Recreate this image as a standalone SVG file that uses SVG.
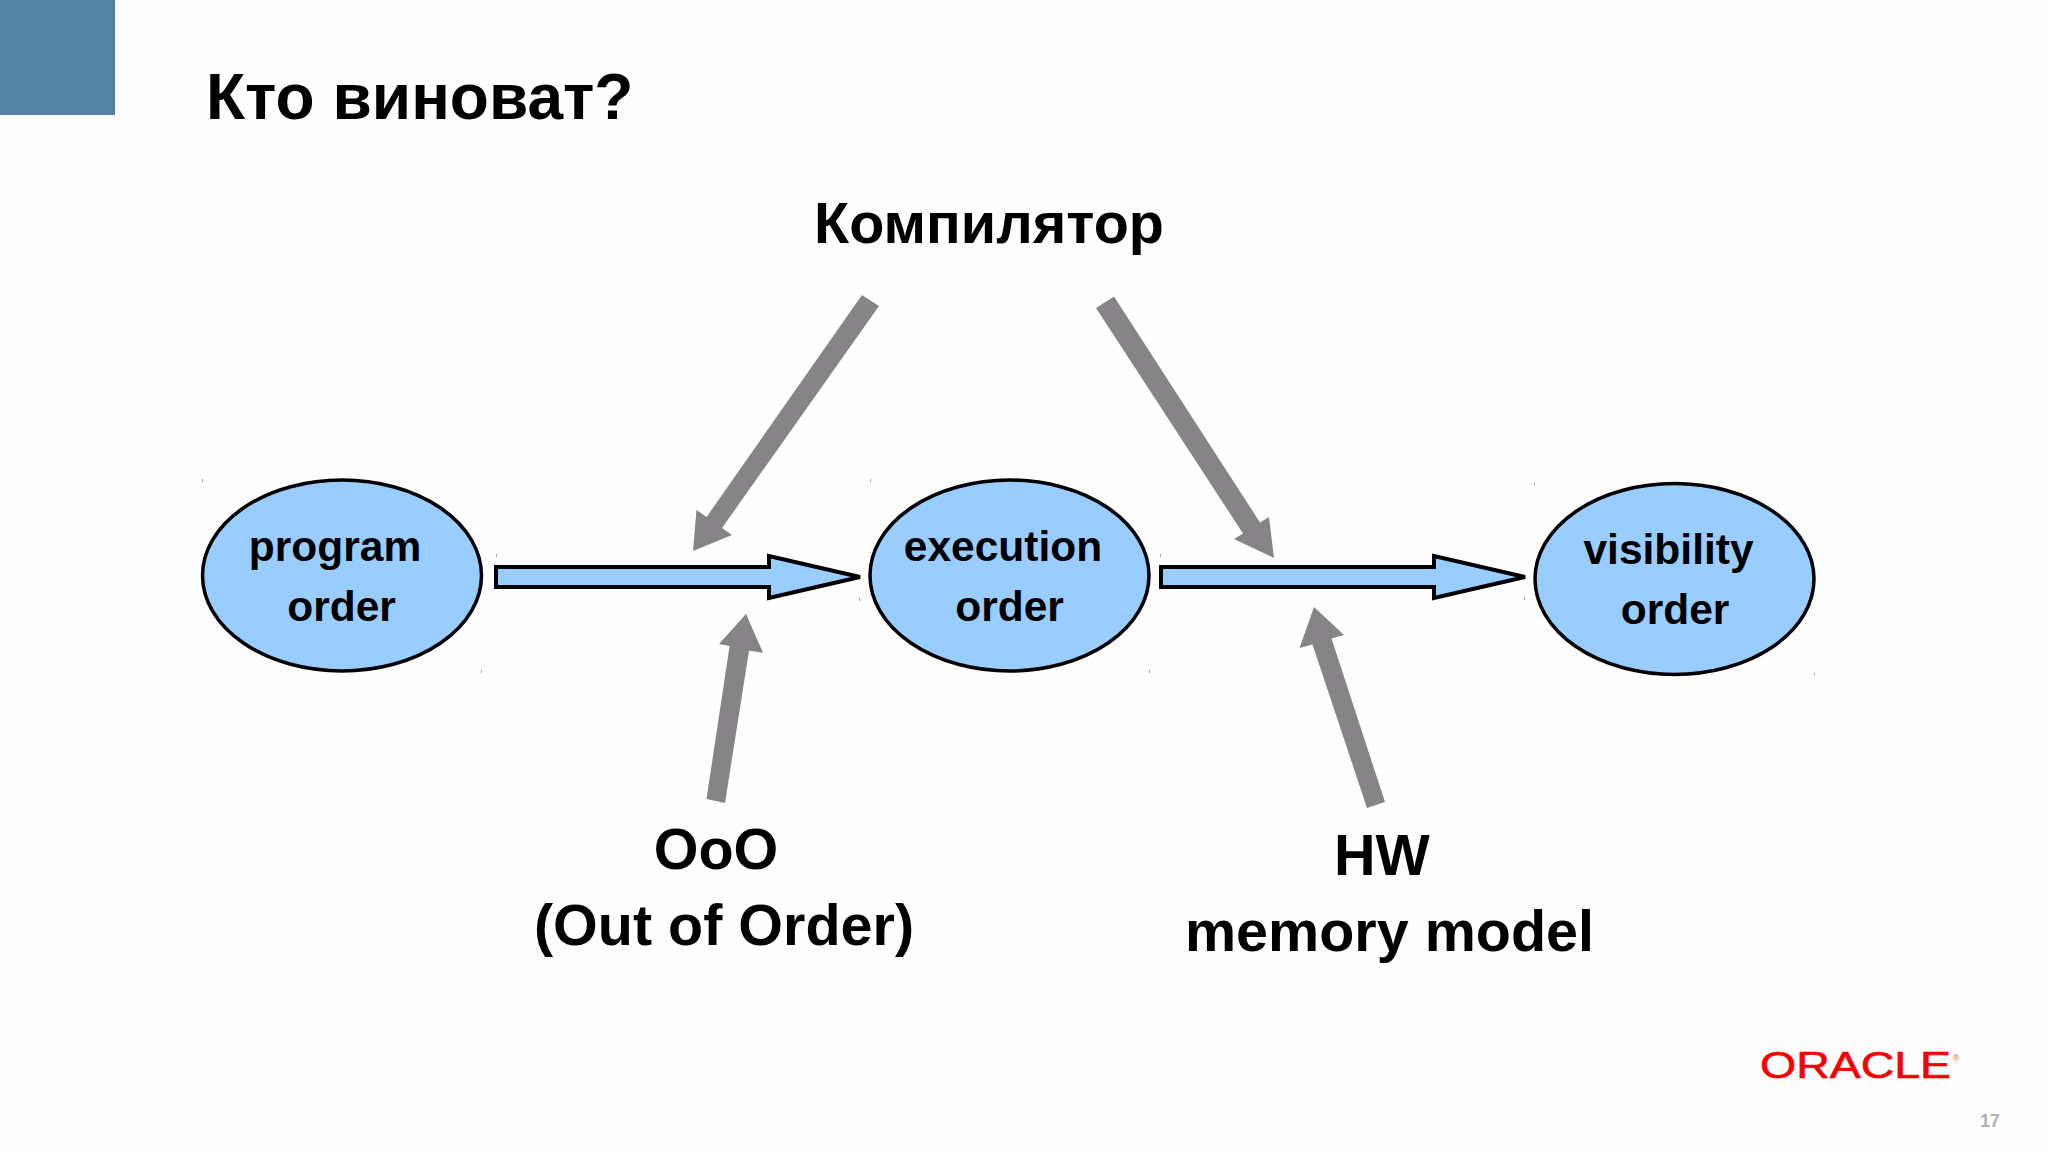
<svg xmlns="http://www.w3.org/2000/svg" width="2048" height="1152" viewBox="0 0 2048 1152">
<style>
text{font-family:"Liberation Sans",Arial,sans-serif;font-weight:700;fill:#000;text-anchor:middle}
.n{font-size:42.500px}
.l{font-size:57.500px}
.o{fill:#99ccff;stroke:#000;stroke-width:3.500}
.b{fill:#99ccff;stroke:#000;stroke-width:4;stroke-linejoin:miter}
.g{fill:#868486}
.m{fill:#a8a8a8}
</style>
<rect width="2048" height="1152" fill="#fefefe"/>
<rect id="corner" width="115" height="115" fill="#5582a3"/>
<text id="title" x="206" y="119" font-size="64" style="text-anchor:start">Кто виноват?</text>
<g id="marks">
<rect class="m" x="202" y="479" width="1" height="3"/><rect class="m" x="496" y="554" width="1" height="3"/><rect class="m" x="481" y="670" width="1" height="3"/><rect class="m" x="870" y="479" width="1" height="3"/><rect class="m" x="859" y="598" width="1" height="3"/><rect class="m" x="1149" y="670" width="1" height="3"/><rect class="m" x="1160" y="554" width="1" height="3"/><rect class="m" x="1524" y="597" width="1" height="3"/><rect class="m" x="1534" y="482" width="1" height="3"/><rect class="m" x="1814" y="673" width="1" height="3"/>
</g>
<g id="connectors">
<path class="b" d="M496 567H769V556L860 577L769 598V587H496Z"/>
<path class="b" d="M1161 567H1434V556L1525 577L1434 598V587H1161Z"/>
<path class="g" d="M862 295L879 306L722 528L732 535L693 551L696.500 510L706.600 517Z"/>
<path class="g" d="M1096 308L1114 296.500L1260 522.500L1269 517L1274 558L1234 539L1243 533.500Z"/>
<path class="g" d="M706.500 799L725 803L749 650.700L763 652.700L746 614L719 644L729.600 646Z"/>
<path class="g" d="M1367 808L1385 802L1331.500 638.600L1344 635L1314 607L1299.500 648L1312.500 644.400Z"/>
</g>
<g id="program-order"><ellipse class="o" cx="342" cy="575.500" rx="139.500" ry="95.500"/><text class="n" x="335" y="561">program</text><text class="n" x="341.500" y="621">order</text></g>
<g id="execution-order"><ellipse class="o" cx="1009.500" cy="575.500" rx="139.500" ry="95.500"/><text class="n" x="1003" y="561">execution</text><text class="n" x="1009.500" y="621">order</text></g>
<g id="visibility-order"><ellipse class="o" cx="1674.500" cy="579" rx="139.500" ry="95.500"/><text class="n" x="1668.500" y="564">visibility</text><text class="n" x="1675" y="623.500">order</text></g>
<g id="compiler"><text class="l" x="989" y="243">Компилятор</text></g>
<g id="ooo"><text class="l" x="716" y="868.500">OoO</text><text class="l" x="724" y="944.500">(Out of Order)</text></g>
<g id="hw"><text class="l" x="1382" y="874.500">HW</text><text class="l" x="1389.500" y="950.500">memory model</text></g>
<g id="logo"><text x="1855.500" y="1078" font-size="36" textLength="191" lengthAdjust="spacingAndGlyphs" style="fill:#f80000;stroke:#f80000;stroke-width:.6;font-weight:400">ORACLE</text><text x="1956" y="1061" font-size="9" style="fill:#f06060;font-weight:400">®</text></g>
<text id="page" x="1990" y="1127" font-size="17.500" style="fill:#b0b0b0">17</text>
</svg>
